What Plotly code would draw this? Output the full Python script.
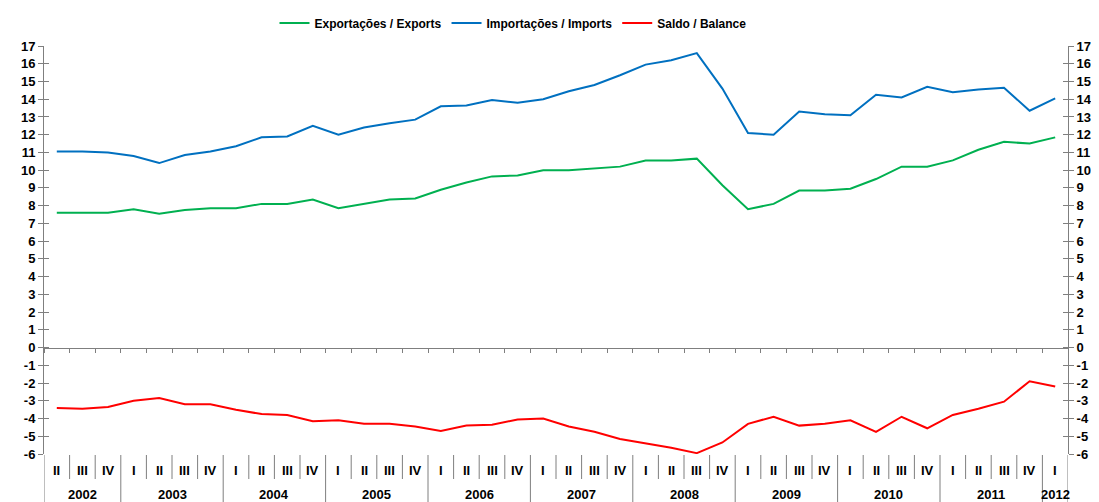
import plotly.graph_objects as go

quarters = ["II", "III", "IV"] + ["I", "II", "III", "IV"] * 9 + ["I"]
years = ["2002", "2003", "2004", "2005", "2006", "2007", "2008", "2009", "2010", "2011", "2012"]
year_counts = [3, 4, 4, 4, 4, 4, 4, 4, 4, 4, 1]

exports = [7.6, 7.6, 7.6, 7.8, 7.55, 7.75, 7.85, 7.85, 8.1, 8.1, 8.35,
           7.85, 8.1, 8.35, 8.4, 8.9, 9.3, 9.65, 9.7, 10.0, 10.0, 10.1, 10.2,
           10.55, 10.55, 10.65, 9.15, 7.8, 8.1, 8.85, 8.85, 8.95, 9.5, 10.2, 10.2,
           10.55, 11.15, 11.6, 11.5, 11.85]
imports = [11.05, 11.05, 11.0, 10.8, 10.4, 10.85, 11.05, 11.35, 11.85, 11.9, 12.5,
           12.0, 12.4, 12.65, 12.85, 13.6, 13.65, 13.95, 13.8, 14.0, 14.45, 14.8, 15.35,
           15.95, 16.2, 16.6, 14.6, 12.1, 12.0, 13.3, 13.15, 13.1, 14.25, 14.1, 14.7,
           14.4, 14.55, 14.65, 13.35, 14.05]
balance = [-3.4, -3.45, -3.35, -3.0, -2.85, -3.2, -3.2, -3.5, -3.75, -3.8, -4.15,
           -4.1, -4.3, -4.3, -4.45, -4.7, -4.4, -4.35, -4.05, -4.0, -4.45, -4.75, -5.15,
           -5.4, -5.65, -5.95, -5.35, -4.3, -3.9, -4.4, -4.3, -4.1, -4.75, -3.9, -4.55,
           -3.8, -3.45, -3.05, -1.9, -2.2]

y_ticks = list(range(-6, 18))
y_min, y_max = -6, 17

FONT = "Liberation Sans, Arial, sans-serif"
AXIS_GREY = "#7f7f7f"

# page has an 8px body margin, so the figure is drawn 8px in from the corner
OFF = 8
W, H = 1099 - OFF, 502 - OFF
ML, MR, MT, MB = 44 - OFF, 1099 - 1068, 46 - OFF, 502 - 454

n = len(quarters)
xs = list(range(n))

fig = go.Figure()
fig.add_trace(go.Scatter(x=xs, y=exports, mode="lines", name="Exportações / Exports",
                         line=dict(color="#00B050", width=2)))
fig.add_trace(go.Scatter(x=xs, y=imports, mode="lines", name="Importações / Imports",
                         line=dict(color="#0070C0", width=2)))
fig.add_trace(go.Scatter(x=xs, y=balance, mode="lines", name="Saldo / Balance",
                         line=dict(color="#FF0000", width=2)))
for ya in ["y2", "y3", "y4"]:
    fig.add_trace(go.Scatter(x=[0], y=[0], yaxis=ya, mode="markers", marker=dict(opacity=0),
                             showlegend=False, hoverinfo="skip"))

ticktext = ["<b>%d</b>" % v for v in y_ticks]
common_y = dict(range=[y_min, y_max], tickmode="array", tickvals=y_ticks,
                showgrid=False, zeroline=False, tickcolor=AXIS_GREY, tickwidth=1, ticklen=5,
                fixedrange=True)

boundaries = [i - 0.5 for i in range(n + 1)]

fig.update_layout(
    width=W, height=H,
    margin=dict(l=ML, r=MR, t=MT, b=MB, autoexpand=False),
    paper_bgcolor="white", plot_bgcolor="white",
    font=dict(family=FONT, size=13, color="black"),
    showlegend=True,
    legend=dict(orientation="h", x=0.458, xanchor="center",
                yref="container", y=1 - (23 - OFF) / H, yanchor="middle",
                font=dict(family=FONT, size=12, color="black", weight="bold"),
                itemwidth=30, tracegroupgap=0, bgcolor="rgba(0,0,0,0)"),
    xaxis=dict(range=[-0.5, n - 0.5], anchor="free", position=(0 - y_min) / (y_max - y_min),
               showline=True, linecolor=AXIS_GREY, linewidth=1,
               tickmode="array", tickvals=boundaries, ticks="outside", ticklen=4,
               tickcolor=AXIS_GREY, showticklabels=False, showgrid=False, zeroline=False,
               fixedrange=True),
    yaxis=dict(**common_y, side="left", ticks="outside", showline=True, linecolor=AXIS_GREY,
               linewidth=1, ticktext=ticktext, tickfont=dict(size=13, color="black")),
    yaxis2=dict(**common_y, side="right", overlaying="y", anchor="x", ticks="outside",
                showline=True, linecolor=AXIS_GREY, linewidth=1, ticktext=ticktext,
                tickfont=dict(size=13, color="black")),
    yaxis3=dict(**common_y, side="left", overlaying="y", anchor="x", ticks="inside",
                showline=False, showticklabels=False),
    yaxis4=dict(**common_y, side="right", overlaying="y", anchor="x", ticks="inside",
                showline=False, showticklabels=False),
)

plot_h = H - MT - MB
def py(px):
    # convert pixel row of the screenshot to paper y
    return (502 - MB - px) / plot_h

shapes = []
annotations = []
for i, q in enumerate(quarters):
    annotations.append(dict(x=i, y=py(470), xref="x", yref="paper", text="<b>%s</b>" % q,
                            showarrow=False, font=dict(size=13, color="black", family=FONT),
                            xanchor="center", yanchor="middle"))
year_bounds = [-0.5]
acc = -0.5
for c in year_counts:
    acc += c
    year_bounds.append(acc)
for b in boundaries:
    if b in year_bounds:
        continue
    shapes.append(dict(type="line", xref="x", yref="paper", x0=b, x1=b, y0=py(455), y1=py(479),
                       line=dict(color=AXIS_GREY, width=1)))
for b in year_bounds:
    shapes.append(dict(type="line", xref="x", yref="paper", x0=b, x1=b, y0=py(455), y1=py(503),
                       line=dict(color=AXIS_GREY, width=1)))
start = -0.5
for yr, c in zip(years, year_counts):
    center = start + c / 2
    annotations.append(dict(x=center, y=py(494), xref="x", yref="paper", text="<b>%s</b>" % yr,
                            showarrow=False, font=dict(size=13, color="black", family=FONT),
                            xanchor="center", yanchor="middle"))
    start += c

fig.update_layout(shapes=shapes, annotations=annotations)
fig.write_html("out.html")
